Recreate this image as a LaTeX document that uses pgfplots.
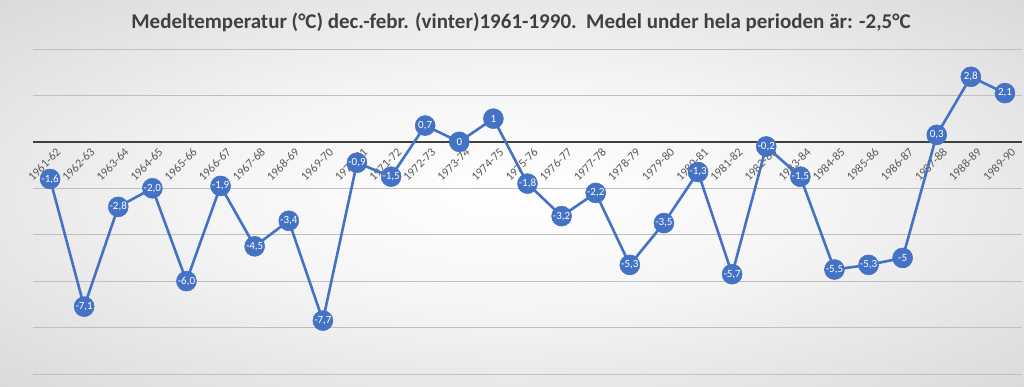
\documentclass[border=0pt]{standalone}
\usepackage{pgfplots}
\pgfplotsset{compat=1.18}
\usepackage{fontspec}
\setmainfont{Carlito}
\definecolor{ser}{HTML}{4472C4}
\definecolor{lab}{HTML}{595959}
\definecolor{tit}{HTML}{404040}
\pgfdeclareradialshading{bg}{\pgfpoint{0bp}{0bp}}{color(0bp)=(white); color(15bp)=(white!96!black); color(50bp)=(white!78!black); color(72bp)=(white!70!black)}
\pgfdeclarelayer{background}
\pgfsetlayers{background,main}
\begin{document}
\begin{tikzpicture}[x=1pt,y=1pt]
\begin{axis}[scale only axis, width=989pt, height=325pt,
  xmin=-0.5, xmax=28.5, ymin=-10, ymax=4,
  axis x line*=middle, axis y line*=left,
  y axis line style={draw=none},
  x axis line style={draw=black!75, line width=1.3pt},
  ytick={-10,-8,...,4}, yticklabels={},
  ymajorgrids, grid style={draw=black!25, line width=0.9pt},
  major tick length=0pt,
  xtick={0,...,28},
  xticklabels={1961-62,1962-63,1963-64,1964-65,1965-66,1966-67,1967-68,1968-69,1969-70,1970-71,1971-72,1972-73,1973-74,1974-75,1975-76,1976-77,1977-78,1978-79,1979-80,1980-81,1981-82,1982-83,1983-84,1984-85,1985-86,1986-87,1987-88,1988-89,1989-90},
  xticklabel style={rotate=45, anchor=east, font=\fontsize{12}{14}\selectfont, text=lab, inner sep=1pt, xshift=1pt, yshift=-12pt},
  clip=false,
]
\coordinate (A) at (axis cs:-0.5,-10);
\addplot[ser, line width=2.6pt, mark=*, mark size=10pt, mark options={fill=ser, draw=ser, line width=0.5pt},
  nodes near coords, point meta=explicit symbolic,
  every node near coord/.append style={anchor=center, text=white, font=\fontsize{11}{12}\selectfont, inner sep=0pt}]
  table[x=x, y=y, meta=lab]{
x y lab
0 -1.6 -1,6
1 -7.1 -7,1
2 -2.8 -2,8
3 -2.0 -2,0
4 -6.0 -6,0
5 -1.9 -1,9
6 -4.5 -4,5
7 -3.4 -3,4
8 -7.7 -7,7
9 -0.9 -0,9
10 -1.5 -1,5
11 0.7 0,7
12 0 0
13 1 1
14 -1.8 -1,8
15 -3.2 -3,2
16 -2.2 -2,2
17 -5.3 -5,3
18 -3.5 -3,5
19 -1.3 -1,3
20 -5.7 -5,7
21 -0.2 -0,2
22 -1.5 -1,5
23 -5.5 -5,5
24 -5.3 -5,3
25 -5 -5
26 0.3 0,3
27 2.8 2,8
28 2.1 2,1
};
\end{axis}
\begin{pgfonlayer}{background}
\shade[shading=bg] ([shift={(-33,-13)}]A) rectangle ([shift={(991,374)}]A);
\end{pgfonlayer}
\node[font=\bfseries\fontsize{21}{24}\selectfont, text=tit] at ([shift={(488,352)}]A) {Medeltemperatur (°C) dec.-febr. (vinter)1961-1990.\ \ Medel under hela perioden är: -2,5°C};
\useasboundingbox ([shift={(-33,-13)}]A) rectangle ([shift={(991,374)}]A);
\end{tikzpicture}
\end{document}
